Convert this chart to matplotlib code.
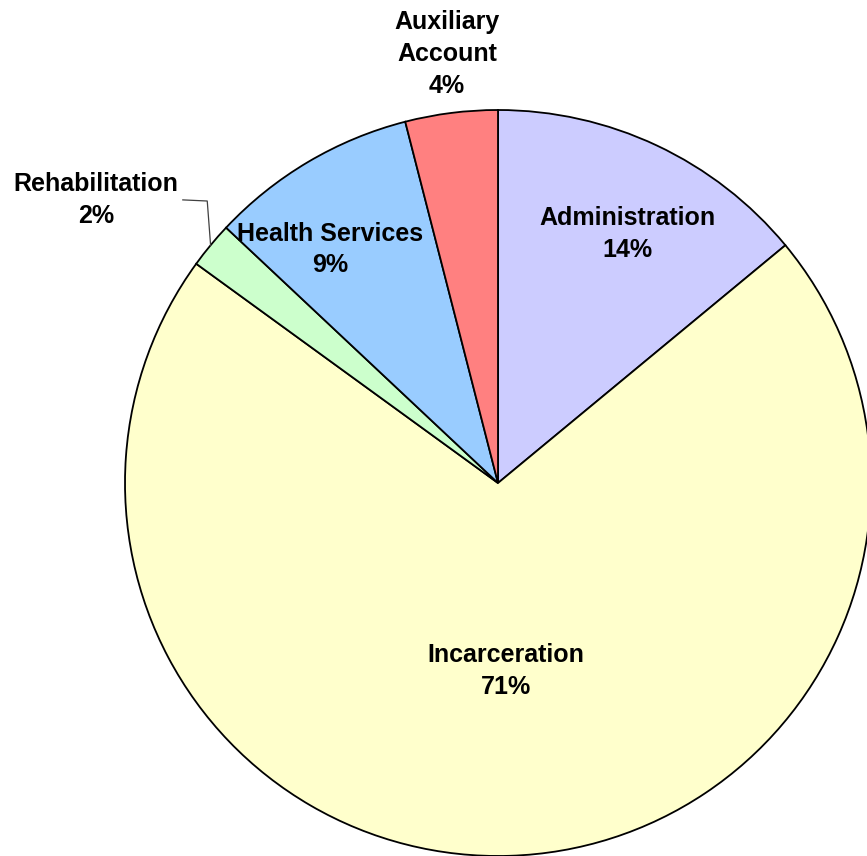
import numpy as np
import matplotlib
matplotlib.use("Agg")
import matplotlib.pyplot as plt

categories = ["Administration", "Incarceration", "Rehabilitation",
              "Health Services", "Auxiliary\nAccount"]
shares = [14, 71, 2, 9, 4]
colors = ["#CCCCFF", "#FFFFCC", "#CCFFCC", "#99CCFF", "#FF8080"]

# label placement in pie-radius units
label_xy = [(0.346, 0.668), (0.021, -0.505), (-1.078, 0.759),
            (-0.450, 0.626), (-0.137, 1.151)]

plt.rcParams["font.family"] = ["Liberation Sans", "DejaVu Sans"]

fig = plt.figure(figsize=(8.67, 8.56), dpi=100)
ax = fig.add_axes([125 / 867, 0, 746 / 867, 746 / 856])

wedges, _ = ax.pie(
    shares,
    colors=colors,
    startangle=90,
    counterclock=False,
    radius=1.0,
    wedgeprops=dict(edgecolor="black", linewidth=1.3),
)

for (x, y), name, val in zip(label_xy, categories, shares):
    ax.text(x, y, f"{name}\n{val}%", ha="center", va="center",
            fontsize=18, fontweight="bold", linespacing=1.42)

# leader line for the small Rehabilitation slice
w = wedges[2]
mid = np.deg2rad((w.theta1 + w.theta2) / 2)
ex, ey = np.cos(mid), np.sin(mid)
lx, ly = label_xy[2]
ax.plot([lx + 0.233, ex - 0.009, ex], [ly, ly - 0.003, ey],
        color="#404040", linewidth=0.9, clip_on=False)

ax.set_xlim(-1, 1)
ax.set_ylim(-1, 1)
ax.set_aspect("equal")
ax.axis("off")

fig.savefig("out.png", dpi=100)
